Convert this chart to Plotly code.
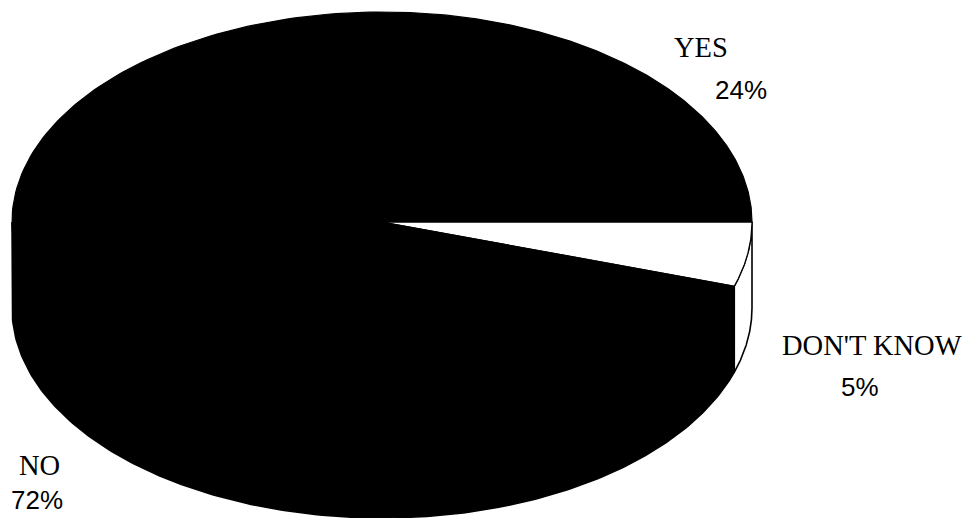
import numpy as np
import plotly.graph_objects as go

# ---- data ----
labels = ["DON'T KNOW", "NO", "YES"]      # clockwise from 3 o'clock
values = [5, 72, 24]                      # percent shown on chart
pct_text = [f"{v}%" for v in values]

# ---- style / geometry ----
CX, CY, RX, RY, DEPTH = 382, 222, 370, 210, 86
fill_of = {"DON'T KNOW": "white", "NO": "black", "YES": "black"}
name_pos = {"YES": (701, 47), "DON'T KNOW": (872, 345), "NO": (39, 465)}
pct_pos = {"YES": (741, 90), "DON'T KNOW": (860, 387), "NO": (37, 500)}

total = float(sum(values))
bounds = -np.concatenate([[0.0], np.cumsum(values)]) / total * 2 * np.pi


def arc(a, b, n=200):
    t = np.linspace(a, b, n)
    return CX + RX * np.cos(t), CY - RY * np.sin(t)


fig = go.Figure()

# side walls (front half only: angles in [-pi, 0])
for i, lab in enumerate(labels):
    a, b = bounds[i], bounds[i + 1]          # a > b (clockwise)
    lo, hi = max(b, -np.pi), min(a, 0.0)
    if lo >= hi:
        continue
    xt, yt = arc(hi, lo)
    xs = np.concatenate([xt, xt[::-1], xt[:1]])
    ys = np.concatenate([yt, (yt + DEPTH)[::-1], yt[:1]])
    fig.add_trace(go.Scatter(x=xs, y=ys, mode="lines", fill="toself",
                             fillcolor=fill_of[lab],
                             line=dict(color="black", width=1.6),
                             hoverinfo="skip", showlegend=False))

# top faces
for i, lab in enumerate(labels):
    a, b = bounds[i], bounds[i + 1]
    xt, yt = arc(a, b)
    xs = np.concatenate([[CX], xt, [CX]])
    ys = np.concatenate([[CY], yt, [CY]])
    fig.add_trace(go.Scatter(x=xs, y=ys, mode="lines", fill="toself",
                             fillcolor=fill_of[lab],
                             line=dict(color="black", width=1.2),
                             hoverinfo="skip", showlegend=False))

for lab, pt in zip(labels, pct_text):
    nx, ny = name_pos[lab]
    px, py = pct_pos[lab]
    fig.add_annotation(x=nx, y=ny, text=lab, showarrow=False,
                       xanchor="center", yanchor="middle",
                       font=dict(family="Liberation Serif", size=28.5, color="black"))
    fig.add_annotation(x=px, y=py, text=pt, showarrow=False,
                       xanchor="center", yanchor="middle",
                       font=dict(family="Liberation Sans", size=26, color="black"))

fig.update_layout(
    width=967, height=518,
    margin=dict(l=0, r=0, t=0, b=0),
    paper_bgcolor="white", plot_bgcolor="white",
    xaxis=dict(range=[0, 967], visible=False, fixedrange=True),
    yaxis=dict(range=[518, 0], visible=False, fixedrange=True),
)

fig.write_html("out.html", config={"displayModeBar": False},
               post_script="document.body.style.margin='0';document.body.style.overflow='hidden';")
